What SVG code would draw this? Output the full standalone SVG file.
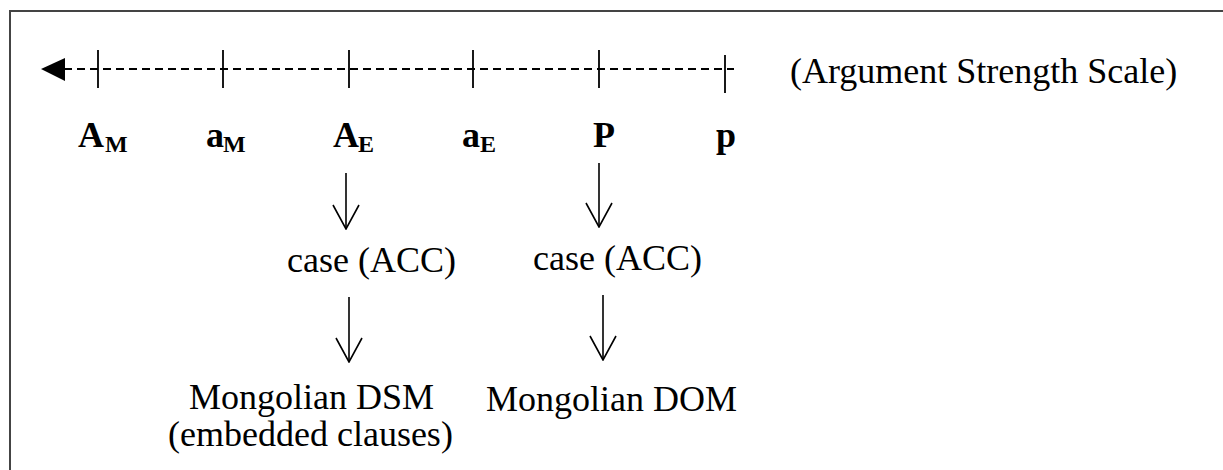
<svg xmlns="http://www.w3.org/2000/svg" width="1223" height="470" viewBox="0 0 1223 470">
<defs>
<style>
.t{font-family:"Liberation Serif","Times New Roman",serif;font-size:36px;fill:#000}
.b{font-family:"Liberation Serif","Times New Roman",serif;font-size:36px;font-weight:bold;fill:#000}
.s{font-family:"Liberation Serif","Times New Roman",serif;font-size:24px;font-weight:bold;fill:#000}
.tick{stroke:#000;stroke-width:1.8}
.conn{stroke:#000;stroke-width:1.6;fill:none}
</style>
<marker id="open" viewBox="0 0 26 28" refX="25" refY="14" markerWidth="26" markerHeight="28" markerUnits="userSpaceOnUse" orient="auto">
<path d="M1,1 L25,14 L1,27" fill="none" stroke="#000" stroke-width="1.6"/>
</marker>
</defs>
<rect width="1223" height="470" fill="#fff"/>
<path d="M10,471 L10,11 L1224,11" fill="none" stroke="#444" stroke-width="2"/>
<g id="scale">
<line x1="64" y1="69" x2="734" y2="69" stroke="#000" stroke-width="1.8" stroke-dasharray="8,5"/>
<polygon points="41,69 65,58 65,81" fill="#000"/>
<line class="tick" x1="98" y1="50" x2="98" y2="88"/>
<line class="tick" x1="223" y1="50" x2="223" y2="88"/>
<line class="tick" x1="349" y1="50" x2="349" y2="88"/>
<line class="tick" x1="473" y1="50" x2="473" y2="88"/>
<line class="tick" x1="599" y1="50" x2="599" y2="88"/>
<line class="tick" x1="725" y1="55" x2="725" y2="93"/>
<text class="t" x="790" y="83">(Argument Strength Scale)</text>
</g>
<g id="label-AM"><text class="b" x="78" y="147">A</text><text class="s" x="105" y="152">M</text></g>
<g id="label-aM"><text class="b" x="206" y="147">a</text><text class="s" x="223" y="152">M</text></g>
<g id="label-AE"><text class="b" x="333" y="147">A</text><text class="s" x="358" y="152">E</text></g>
<g id="label-aE"><text class="b" x="462" y="147">a</text><text class="s" x="480" y="152">E</text></g>
<g id="label-P"><text class="b" x="593" y="147">P</text></g>
<g id="label-p"><text class="b" x="716" y="147">p</text></g>
<g id="case1"><text class="t" x="287" y="272">case (ACC)</text></g>
<g id="case2"><text class="t" x="533" y="270">case (ACC)</text></g>
<g id="dsm"><text class="t" x="189" y="409">Mongolian DSM</text><text class="t" x="168" y="446">(embedded clauses)</text></g>
<g id="dom"><text class="t" x="486" y="411">Mongolian DOM</text></g>
<g id="connectors">
<line class="conn" x1="346" y1="173" x2="346" y2="229" marker-end="url(#open)"/>
<line class="conn" x1="349" y1="297" x2="349" y2="362" marker-end="url(#open)"/>
<line class="conn" x1="599" y1="163" x2="599" y2="227" marker-end="url(#open)"/>
<line class="conn" x1="603" y1="295" x2="603" y2="360" marker-end="url(#open)"/>
</g>
</svg>
